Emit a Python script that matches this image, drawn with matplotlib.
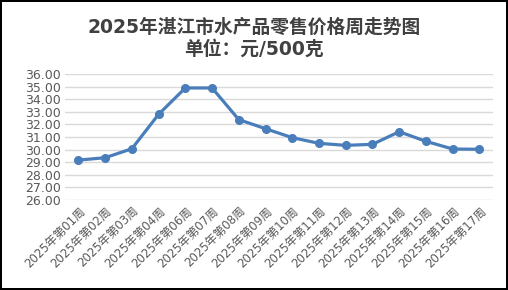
import matplotlib.pyplot as plt
import numpy as np

# Data
weeks = ['2025年第01周', '2025年第02周', '2025年第03周', '2025年第04周',
         '2025年第06周', '2025年第07周', '2025年第08周', '2025年第09周',
         '2025年第10周', '2025年第11周', '2025年第12周', '2025年第13周',
         '2025年第14周', '2025年第15周', '2025年第16周', '2025年第17周']
prices = [29.17, 29.36, 30.07, 32.80, 34.89, 34.89, 32.38, 31.66,
          30.95, 30.50, 30.34, 30.42, 31.42, 30.66, 30.05, 30.03]
yticks = np.arange(26, 37, 1)

plt.rcParams['font.family'] = ['DejaVu Sans', 'Noto Sans CJK SC']

fig = plt.figure(figsize=(5.08, 2.90), dpi=100)
fig.patch.set_facecolor('white')
fig.patch.set_edgecolor('black')
fig.patch.set_linewidth(1.5)

ax = fig.add_axes([0.128, 0.31, 0.842, 0.435])
x = np.arange(len(weeks))
ax.plot(x, prices, color='#4a7ebb', linewidth=2.3, marker='o', markersize=5.5,
        solid_capstyle='round', zorder=3)

ax.set_xlim(-0.5, len(weeks) - 0.5)
ax.set_ylim(26, 36)
ax.set_yticks(yticks)
ax.set_yticklabels([f'{v:.2f}' for v in yticks], color='#595959', fontsize=9)
ax.set_xticks(x)
ax.set_xticklabels(weeks, rotation=45, ha='right', rotation_mode='anchor',
                   color='#595959', fontsize=8.5)
ax.tick_params(length=0, pad=3)
ax.grid(axis='y', color='#d9d9d9', linewidth=1)
ax.set_axisbelow(True)
for s in ax.spines.values():
    s.set_visible(False)

fig.text(0.5, 0.905, '2025年湛江市水产品零售价格周走势图', ha='center', va='center',
         fontsize=13.5, fontweight='bold', color='#404040')
fig.text(0.5, 0.83, '单位：元/500克', ha='center', va='center',
         fontsize=13.5, fontweight='bold', color='#404040')

plt.savefig('out.png', dpi=100)
